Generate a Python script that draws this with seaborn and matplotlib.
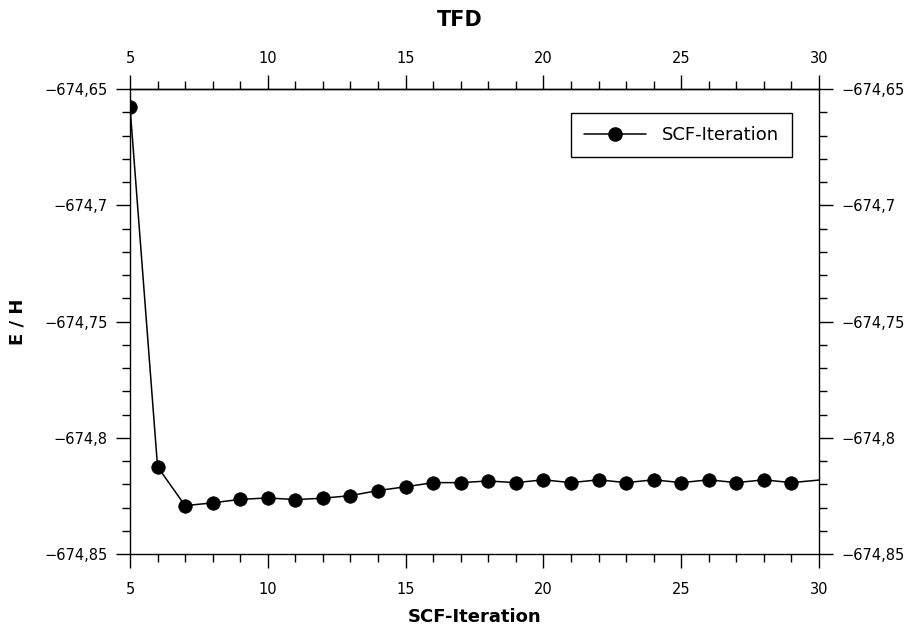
import matplotlib
matplotlib.use("Agg")
import matplotlib.pyplot as plt
from matplotlib.lines import Line2D
import seaborn as sns
import pandas as pd
from matplotlib.ticker import MultipleLocator, FixedLocator, FuncFormatter

iterations = [5, 6, 7, 8, 9, 10, 11, 12, 13, 14, 15, 16, 17, 18, 19, 20,
              21, 22, 23, 24, 25, 26, 27, 28, 29, 31]
energies = [-674.6576, -674.8125, -674.8292, -674.8280, -674.8265, -674.8259,
            -674.8266, -674.8260, -674.8249, -674.8227, -674.8211, -674.8193,
            -674.8193, -674.8186, -674.8193, -674.8181, -674.8193, -674.8181,
            -674.8193, -674.8181, -674.8193, -674.8181, -674.8193, -674.8181,
            -674.8193, -674.8171]
x_ticks = [5, 10, 15, 20, 25, 30]
series_name = "SCF-Iteration"
title = "TFD"
xlabel = "SCF-Iteration"
ylabel = "E / H"

df = pd.DataFrame({"x": iterations, "y": energies})

sns.set_style("ticks")
plt.rcParams['font.family'] = ['DejaVu Sans']
plt.rcParams['text.color'] = 'black'
plt.rcParams['axes.labelcolor'] = 'black'

fig = plt.figure(figsize=(9.2, 6.3), dpi=100)
ax = fig.add_axes([130/920, 1-554/630, 689/920, 465/630])

sns.lineplot(data=df, x="x", y="y", color="black", linewidth=1.1, ax=ax,
             legend=False)
sns.scatterplot(data=df, x="x", y="y", color="black", s=95, edgecolor="black",
                linewidth=0.5, ax=ax, legend=False, zorder=3)

ax.set_xlim(5, 30)
ax.set_ylim(-674.85, -674.65)
ax.xaxis.set_major_locator(FixedLocator(x_ticks))
ax.xaxis.set_minor_locator(MultipleLocator(1))
ax.yaxis.set_major_locator(MultipleLocator(0.05))
ax.yaxis.set_minor_locator(MultipleLocator(0.01))

def fmt(v, pos):
    s = f"{round(v, 3):g}"
    return s.replace('.', ',').replace('-', '\u2212')

xfmt = FuncFormatter(lambda v, p: f"{int(round(v))}")
ax.yaxis.set_major_formatter(FuncFormatter(fmt))
ax.xaxis.set_major_formatter(xfmt)

ax.tick_params(which='both', direction='out', colors='black', labelsize=10.5,
               labelcolor='black', top=False, labeltop=False, right=True,
               labelright=True)
ax.tick_params(which='major', length=10, width=1)
ax.tick_params(which='minor', length=5.8, width=1)
ax.tick_params(axis='x', which='major', pad=10)
ax.tick_params(axis='y', which='major', pad=6)

secax = ax.secondary_xaxis('top')
secax.xaxis.set_major_locator(FixedLocator(x_ticks))
secax.xaxis.set_minor_locator(MultipleLocator(1))
secax.xaxis.set_major_formatter(xfmt)
secax.tick_params(which='both', direction='out', colors='black', labelsize=10.5,
                  labelcolor='black')
secax.tick_params(which='major', length=10, width=1, pad=6.5)
secax.tick_params(which='minor', length=5.8, width=1)
secax.spines['top'].set_color('black')
secax.spines['top'].set_linewidth(1)

for sp in ax.spines.values():
    sp.set_visible(True)
    sp.set_color('black')
    sp.set_linewidth(1)

ax.set_xlabel(xlabel, fontsize=13, fontweight='bold')
ax.set_ylabel(ylabel, fontsize=13, fontweight='bold')
ax.xaxis.set_label_coords(0.5, -(608-554)/465)
ax.yaxis.set_label_coords(-(130-27)/689, 0.5)
fig.text(0.5, 1-20/630, title, ha='center', va='center', fontsize=15,
         fontweight='bold')

handle = Line2D([], [], color='black', marker='o', markersize=9.5, lw=1.1)
leg = ax.legend([handle], [series_name], loc='upper right',
                bbox_to_anchor=((792-130)/689, (554-113)/465),
                fontsize=13, frameon=True, fancybox=False, handlelength=3.4,
                handletextpad=0.9, borderpad=0.72, borderaxespad=0)
leg.get_frame().set_edgecolor('black')
leg.get_frame().set_linewidth(1)
leg.get_frame().set_alpha(1)

fig.savefig("out.png", dpi=100)
